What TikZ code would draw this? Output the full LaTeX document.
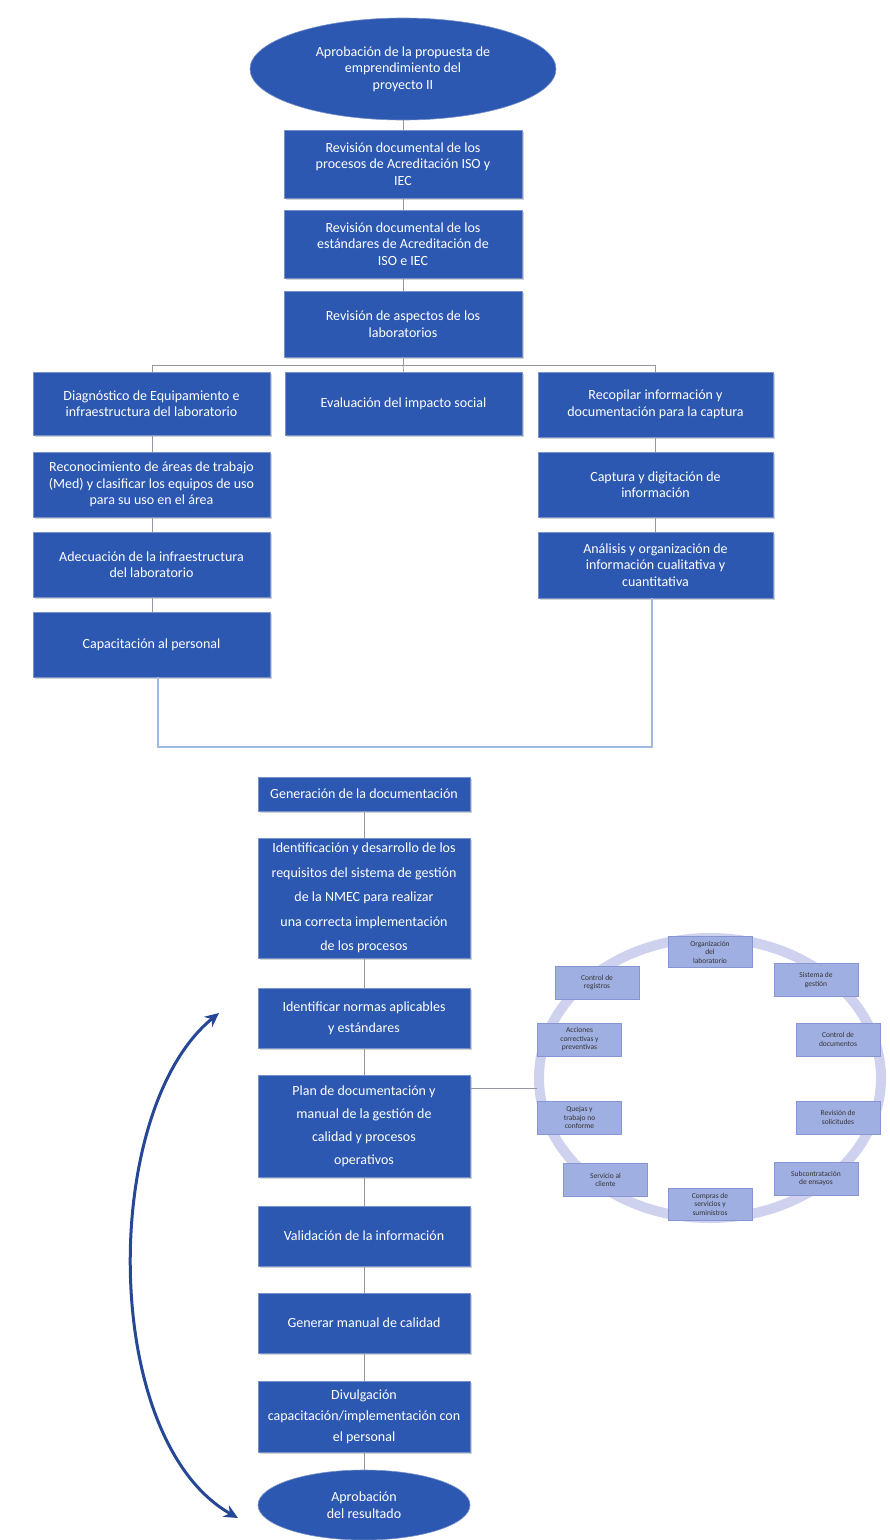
\documentclass[tikz,border=0pt]{standalone}
\usepackage{fontspec}
\setmainfont{Carlito}
\usetikzlibrary{shapes.geometric,arrows.meta,shadows}
\definecolor{boxblue}{RGB}{44,88,178}
\definecolor{boxedge}{RGB}{120,145,200}
\definecolor{linegray}{RGB}{150,150,160}
\definecolor{lineblue}{RGB}{160,185,225}
\definecolor{ringcol}{RGB}{206,210,238}
\definecolor{smallfill}{RGB}{160,175,225}
\definecolor{smalledge}{RGB}{135,150,210}
\definecolor{arrowcol}{RGB}{38,70,150}
\begin{document}
\begin{tikzpicture}[x=1pt,y=-1pt,
  bluebox/.style={rectangle, fill=boxblue, draw=boxedge, line width=0.6pt, text=white, align=center,
    font=\fontsize{14}{16.5}\selectfont, inner sep=1pt,
    drop shadow={opacity=0.35, shadow xshift=1.5pt, shadow yshift=-1.5pt}},
  blueell/.style={ellipse, fill=boxblue, draw=boxedge, line width=0.6pt, text=white, align=center,
    font=\fontsize{14}{16.5}\selectfont, inner sep=0pt},
  smallbox/.style={rectangle, fill=smallfill, draw=smalledge, line width=0.5pt, text=black!80,
    align=center, font=\fontsize{7.5}{8.5}\selectfont, minimum width=84pt, minimum height=33pt, inner sep=1pt},
  conn/.style={draw=linegray, line width=0.8pt},
  connb/.style={draw=lineblue, line width=1.2pt}
]
\useasboundingbox (0,0) rectangle (890,1540);

% top flow
\node[blueell, minimum width=306pt, minimum height=102pt] (start) at (403,69)
  {Aprobación de la propuesta de\\emprendimiento del\\proyecto II};
\node[bluebox, minimum width=238pt, minimum height=68pt] (b1) at (403,164)
  {Revisión documental de los\\procesos de Acreditación ISO y\\IEC};
\node[bluebox, minimum width=238pt, minimum height=68pt] (b2) at (403,244)
  {Revisión documental de los\\estándares de Acreditación de\\ISO e IEC};
\node[bluebox, minimum width=238pt, minimum height=66pt] (b3) at (403,324)
  {Revisión de aspectos de los\\laboratorios};

% left column
\node[bluebox, minimum width=237pt, minimum height=63pt] (l1) at (151.5,403.5)
  {Diagnóstico de Equipamiento e\\infraestructura del laboratorio};
\node[bluebox, minimum width=237pt, minimum height=65pt] (l2) at (151.5,484.5)
  {Reconocimiento de áreas de trabajo\\(Med) y clasificar los equipos de uso\\para su uso en el área};
\node[bluebox, minimum width=237pt, minimum height=65pt] (l3) at (151.5,564.5)
  {Adecuación de la infraestructura\\del laboratorio};
\node[bluebox, minimum width=237pt, minimum height=65pt] (l4) at (151.5,644.5)
  {Capacitación al personal};

% middle
\node[bluebox, minimum width=237pt, minimum height=63pt] (m1) at (403.5,403.5)
  {Evaluación del impacto social};

% right column
\node[bluebox, minimum width=235pt, minimum height=65pt] (r1) at (655.5,404.5)
  {Recopilar información y\\documentación para la captura};
\node[bluebox, minimum width=235pt, minimum height=65pt] (r2) at (655.5,484.5)
  {Captura y digitación de\\información};
\node[bluebox, minimum width=235pt, minimum height=66pt] (r3) at (655.5,565)
  {Análisis y organización de\\información cualitativa y\\cuantitativa};

% top connectors
\draw[conn] (start.south) -- (b1.north);
\draw[conn] (b1.south) -- (b2.north);
\draw[conn] (b2.south) -- (b3.north);
\coordinate (hL) at (152,365);
\coordinate (hR) at (655,365);
\draw[conn] (b3.south) -- (403,365);
\draw[conn] (hL) -- (hR);
\draw[conn] (hL) -- (l1.north -| hL);
\draw[conn] (403,365) -- (m1.north);
\draw[conn] (hR) -- (r1.north -| hR);
\draw[conn] (l1.south -| hL) -- (l2.north -| hL);
\draw[conn] (l2.south -| hL) -- (l3.north -| hL);
\draw[conn] (l3.south -| hL) -- (l4.north -| hL);
\draw[conn] (r1.south -| hR) -- (r2.north -| hR);
\draw[conn] (r2.south -| hR) -- (r3.north -| hR);

% joining line
\coordinate (jL) at (158,747);
\coordinate (jR) at (652,747);
\draw[connb] (l4.south -| jL) -- (jL) -- (jR) -- (r3.south -| jR);

% bottom flow
\node[bluebox, minimum width=212pt, minimum height=34pt] (g1) at (364,794)
  {Generación de la documentación};
\node[bluebox, minimum width=212pt, minimum height=120pt, font=\fontsize{14}{24.5}\selectfont] (g2) at (364,898)
  {Identificación y desarrollo de los\\requisitos del sistema de gestión\\de la NMEC para realizar\\una correcta implementación\\de los procesos};
\node[bluebox, minimum width=212pt, minimum height=60pt, font=\fontsize{14}{21}\selectfont] (g3) at (364,1018)
  {Identificar normas aplicables\\y estándares};
\node[bluebox, minimum width=212pt, minimum height=102pt, font=\fontsize{14}{23}\selectfont] (g4) at (364,1126)
  {Plan de documentación y\\manual de la gestión de\\calidad y procesos\\operativos};
\node[bluebox, minimum width=212pt, minimum height=60pt] (g5) at (364,1236)
  {Validación de la información};
\node[bluebox, minimum width=212pt, minimum height=60pt] (g6) at (364,1323)
  {Generar manual de calidad};
\node[bluebox, minimum width=212pt, minimum height=71pt, font=\fontsize{14}{21}\selectfont] (g7) at (364,1416.5)
  {Divulgación\\capacitación/implementación con\\el personal};
\node[blueell, minimum width=212pt, minimum height=70pt] (fin) at (364,1505)
  {Aprobación\\del resultado};

\draw[conn] (g1.south) -- (g2.north);
\draw[conn] (g2.south) -- (g3.north);
\draw[conn] (g3.south) -- (g4.north);
\draw[conn] (g4.south) -- (g5.north);
\draw[conn] (g5.south) -- (g6.north);
\draw[conn] (g6.south) -- (g7.north);
\draw[conn] (g7.south) -- (fin.north);

% curved feedback arrow
\coordinate (aS) at (238,1518);
\coordinate (aE) at (219,1013);
\draw[draw=arrowcol, line width=3pt, {Stealth[length=14pt,width=13pt]}-{Stealth[length=14pt,width=13pt]}]
  (aS) .. controls (100,1440) and (100,1110) .. (aE);

% ring of requirements
\draw[draw=ringcol, line width=10pt] (710,1078) ellipse [x radius=171pt, y radius=140pt];
\coordinate (ringW) at (537,1088);
\draw[conn] (g4.east |- ringW) -- (ringW);

\node[smallbox, minimum height=31pt] (s1) at (710,952) {Organización\\del\\laboratorio};
\node[smallbox] (s2) at (816,980) {Sistema de\\gestión};
\node[smallbox] (s3) at (838,1039.5) {Control de\\documentos};
\node[smallbox] (s4) at (838,1117.5) {Revisión de\\solicitudes};
\node[smallbox] (s5) at (816,1178.5) {Subcontratación\\de ensayos};
\node[smallbox, minimum height=32pt] (s6) at (710,1204) {Compras de\\servicios y\\suministros};
\node[smallbox] (s7) at (605.5,1180) {Servicio al\\cliente};
\node[smallbox] (s8) at (579.5,1117.5) {Quejas y\\trabajo no\\conforme};
\node[smallbox] (s9) at (579.5,1039.5) {Acciones\\correctivas y\\preventivas};
\node[smallbox] (s10) at (597,982.5) {Control de\\registros};
\end{tikzpicture}
\end{document}
